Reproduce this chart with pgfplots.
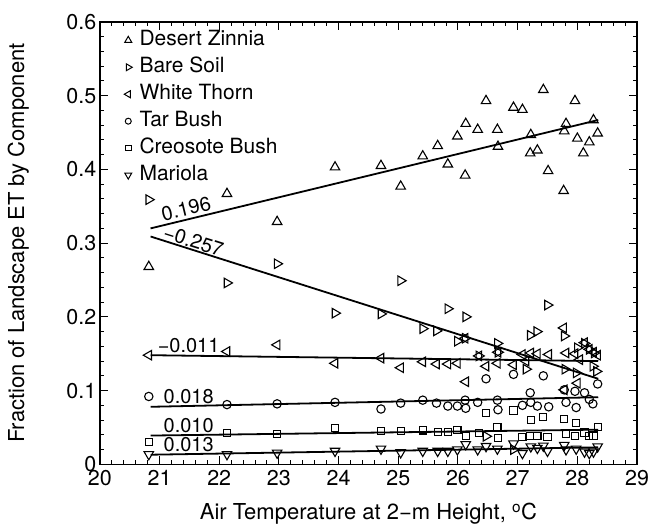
\documentclass[border=0pt]{standalone}
\usepackage{pgfplots}
\pgfplotsset{compat=1.18}
\usepackage{fontspec}
\setmainfont{TeX Gyre Heros}

% legend entries: a single mark followed by a fixed gap before the text
\pgfplotsset{legmark/.style={legend image code/.code={%
  \path (0cm,0cm) (0.52cm,0cm);
  \draw[mark repeat=2,mark phase=2,##1] plot coordinates {(0cm,0cm) (0.2cm,0cm) (0.4cm,0cm)};}}}

% Fraction of landscape ET by component vs. air temperature
\pgfplotstableread{
x y
20.82 0.268
22.13 0.367
22.97 0.329
23.94 0.403
24.71 0.405
25.04 0.377
25.41 0.418
25.66 0.432
25.83 0.407
25.99 0.445
26.12 0.392
26.13 0.462
26.33 0.454
26.47 0.493
26.66 0.454
26.67 0.431
26.93 0.484
27.08 0.481
27.21 0.422
27.22 0.447
27.33 0.426
27.43 0.508
27.51 0.398
27.77 0.371
27.78 0.452
27.81 0.462
27.96 0.493
28.00 0.442
28.10 0.422
28.20 0.437
28.27 0.467
28.34 0.449
}\zinnia

\pgfplotstableread{
x y
20.82 0.359
22.13 0.246
22.97 0.272
23.94 0.205
24.71 0.204
25.04 0.249
25.41 0.184
25.64 0.181
25.83 0.211
25.99 0.167
26.12 0.171
26.13 0.200
26.35 0.147
26.47 0.038
26.66 0.164
26.67 0.152
26.93 0.020
27.14 0.129
27.21 0.175
27.32 0.180
27.50 0.216
27.78 0.174
27.79 0.129
27.98 0.124
28.00 0.158
28.12 0.164
28.20 0.156
28.26 0.133
28.28 0.151
28.32 0.126
}\baresoil

\pgfplotstableread{
x y
20.82 0.148
22.13 0.153
22.97 0.162
23.94 0.137
24.71 0.144
25.04 0.131
25.41 0.139
25.64 0.136
25.83 0.136
25.99 0.137
26.12 0.171
26.13 0.112
26.35 0.147
26.47 0.133
26.66 0.137
26.67 0.152
26.93 0.135
27.08 0.149
27.14 0.140
27.22 0.151
27.33 0.150
27.52 0.149
27.77 0.185
27.78 0.101
27.81 0.151
27.96 0.150
28.00 0.110
28.04 0.142
28.12 0.165
28.20 0.156
28.27 0.152
28.34 0.148
}\whitethorn

\pgfplotstableread{
x y
20.82 0.092
22.13 0.081
22.97 0.082
23.94 0.084
24.71 0.075
25.04 0.083
25.41 0.087
25.64 0.083
25.83 0.079
25.99 0.079
26.12 0.087
26.13 0.076
26.33 0.084
26.47 0.116
26.66 0.087
26.67 0.074
26.93 0.122
27.08 0.080
27.21 0.097
27.22 0.084
27.33 0.079
27.43 0.120
27.52 0.078
27.78 0.101
27.81 0.084
27.96 0.099
27.98 0.077
28.12 0.097
28.20 0.088
28.26 0.082
28.34 0.109
}\tarbush

\pgfplotstableread{
x y
20.82 0.030
22.13 0.042
22.97 0.041
23.94 0.049
24.71 0.045
25.04 0.045
25.41 0.046
25.66 0.044
25.83 0.044
25.99 0.047
26.13 0.039
26.35 0.042
26.47 0.070
26.66 0.051
26.67 0.036
26.93 0.073
27.08 0.037
27.21 0.038
27.22 0.060
27.33 0.038
27.43 0.064
27.50 0.037
27.78 0.061
27.81 0.041
27.96 0.038
27.98 0.056
28.12 0.043
28.20 0.038
28.27 0.039
28.34 0.051
}\creosote

\pgfplotstableread{
x y
20.82 0.0135
22.13 0.0135
22.97 0.0155
23.94 0.018
24.71 0.021
25.04 0.016
25.41 0.018
25.66 0.018
25.83 0.018
25.99 0.020
26.13 0.027
26.33 0.020
26.47 0.0245
26.66 0.021
26.93 0.028
27.08 0.015
27.22 0.024
27.33 0.022
27.43 0.025
27.50 0.018
27.78 0.026
27.81 0.020
27.98 0.021
28.12 0.017
28.20 0.015
28.27 0.017
28.34 0.024
}\mariola

\begin{document}
\begin{tikzpicture}
\begin{axis}[
  name=ax,
  width=538pt, height=443pt, scale only axis,
  xmin=20, xmax=29, ymin=0, ymax=0.6,
  xtick={20,21,...,29},
  ytick={0,0.1,0.2,0.3,0.4,0.5,0.6},
  minor x tick num=4, minor y tick num=4,
  tick align=inside,
  xtick pos=both, ytick pos=both,
  xticklabel pos=lower, yticklabel pos=left,
  major tick length=8pt, minor tick length=4.5pt,
  every tick/.style={black, line width=1pt},
  axis line style={line width=1.5pt},
  /pgf/number format/assume math mode=true,
  tick label style={font=\fontsize{21.5}{25}\selectfont},
  xticklabel style={yshift=-2pt},
  label style={font=\fontsize{22}{26}\selectfont},
  xlabel={Air Temperature at 2−m Height, \textsuperscript{o}C},
  ylabel={Fraction of Landscape ET by Component},
  xlabel style={at={(axis description cs:0.5,-0.112)}, anchor=center},
  ylabel style={at={(axis description cs:-0.152,0.5)}, anchor=center},
  legend style={draw=none, fill=none, at={(0.036,0.99)}, anchor=north west,
    font=\fontsize{21}{25}\selectfont, row sep=3.5pt,
    nodes={inner sep=2pt, text height=15pt, text depth=4.5pt}},
  legend cell align=left,
  every axis plot/.append style={black},
]
% scatter of each component
\addplot[forget plot, only marks, mark=triangle, mark size=5.5pt, mark options={line width=1.1pt}] table {\zinnia};
\addplot[forget plot, only marks, mark=triangle, mark size=5.5pt, mark options={rotate=-90, line width=1.1pt}] table {\baresoil};
\addplot[forget plot, only marks, mark=triangle, mark size=5.5pt, mark options={rotate=90, line width=1.1pt}] table {\whitethorn};
\addplot[forget plot, only marks, mark=o, mark size=4.2pt, mark options={line width=1.1pt}] table {\tarbush};
\addplot[forget plot, only marks, mark=square, mark size=3.6pt, mark options={line width=1.1pt}] table {\creosote};
\addplot[forget plot, only marks, mark=triangle, mark size=5.5pt, mark options={rotate=180, line width=1.1pt}] table {\mariola};

% fitted trends with their slopes
\def\slopefont{\fontsize{20}{24}\selectfont}
\addplot[forget plot, no marks, line width=1.8pt] coordinates {(20.85,0.320) (28.35,0.467)}
  node[pos=0.085, sloped, anchor=south, inner sep=2.5pt, font=\slopefont] {0.196};
\addplot[forget plot, no marks, line width=1.8pt] coordinates {(20.85,0.309) (28.35,0.116)}
  node[pos=0.09, sloped, anchor=south, inner sep=0.5pt, font=\slopefont] {−0.257};
\addplot[forget plot, no marks, line width=1.8pt] coordinates {(20.85,0.148) (28.35,0.140)}
  node[pos=0.085, anchor=south, inner sep=1.5pt, font=\slopefont] {−0.011};
\addplot[forget plot, no marks, line width=1.8pt] coordinates {(20.85,0.078) (28.35,0.091)}
  node[pos=0.085, anchor=south, inner sep=1.5pt, font=\slopefont] {0.018};
\addplot[forget plot, no marks, line width=1.8pt] coordinates {(20.85,0.039) (28.35,0.047)}
  node[pos=0.085, anchor=south, inner sep=1.5pt, font=\slopefont] {0.010};
\addplot[forget plot, no marks, line width=1.8pt] coordinates {(20.85,0.013) (28.35,0.023)}
  node[pos=0.085, anchor=south, inner sep=1.5pt, font=\slopefont] {0.013};

\addlegendimage{only marks, mark=triangle, mark size=4pt, mark options={line width=1pt}, legmark}
\addlegendentry{Desert Zinnia}
\addlegendimage{only marks, mark=triangle, mark size=4pt, mark options={rotate=-90, line width=1pt}, legmark}
\addlegendentry{Bare Soil}
\addlegendimage{only marks, mark=triangle, mark size=4pt, mark options={rotate=90, line width=1pt}, legmark}
\addlegendentry{White Thorn}
\addlegendimage{only marks, mark=o, mark size=3pt, mark options={line width=1pt}, legmark}
\addlegendentry{Tar Bush}
\addlegendimage{only marks, mark=square, mark size=2.8pt, mark options={line width=1pt}, legmark}
\addlegendentry{Creosote Bush}
\addlegendimage{only marks, mark=triangle, mark size=4pt, mark options={rotate=180, line width=1pt}, legmark}
\addlegendentry{Mariola}
\end{axis}
\pgfresetboundingbox
\useasboundingbox ([shift={(-100pt,-63pt)}]ax.south west) rectangle ([shift={(24pt,22pt)}]ax.north east);
\end{tikzpicture}
\end{document}
